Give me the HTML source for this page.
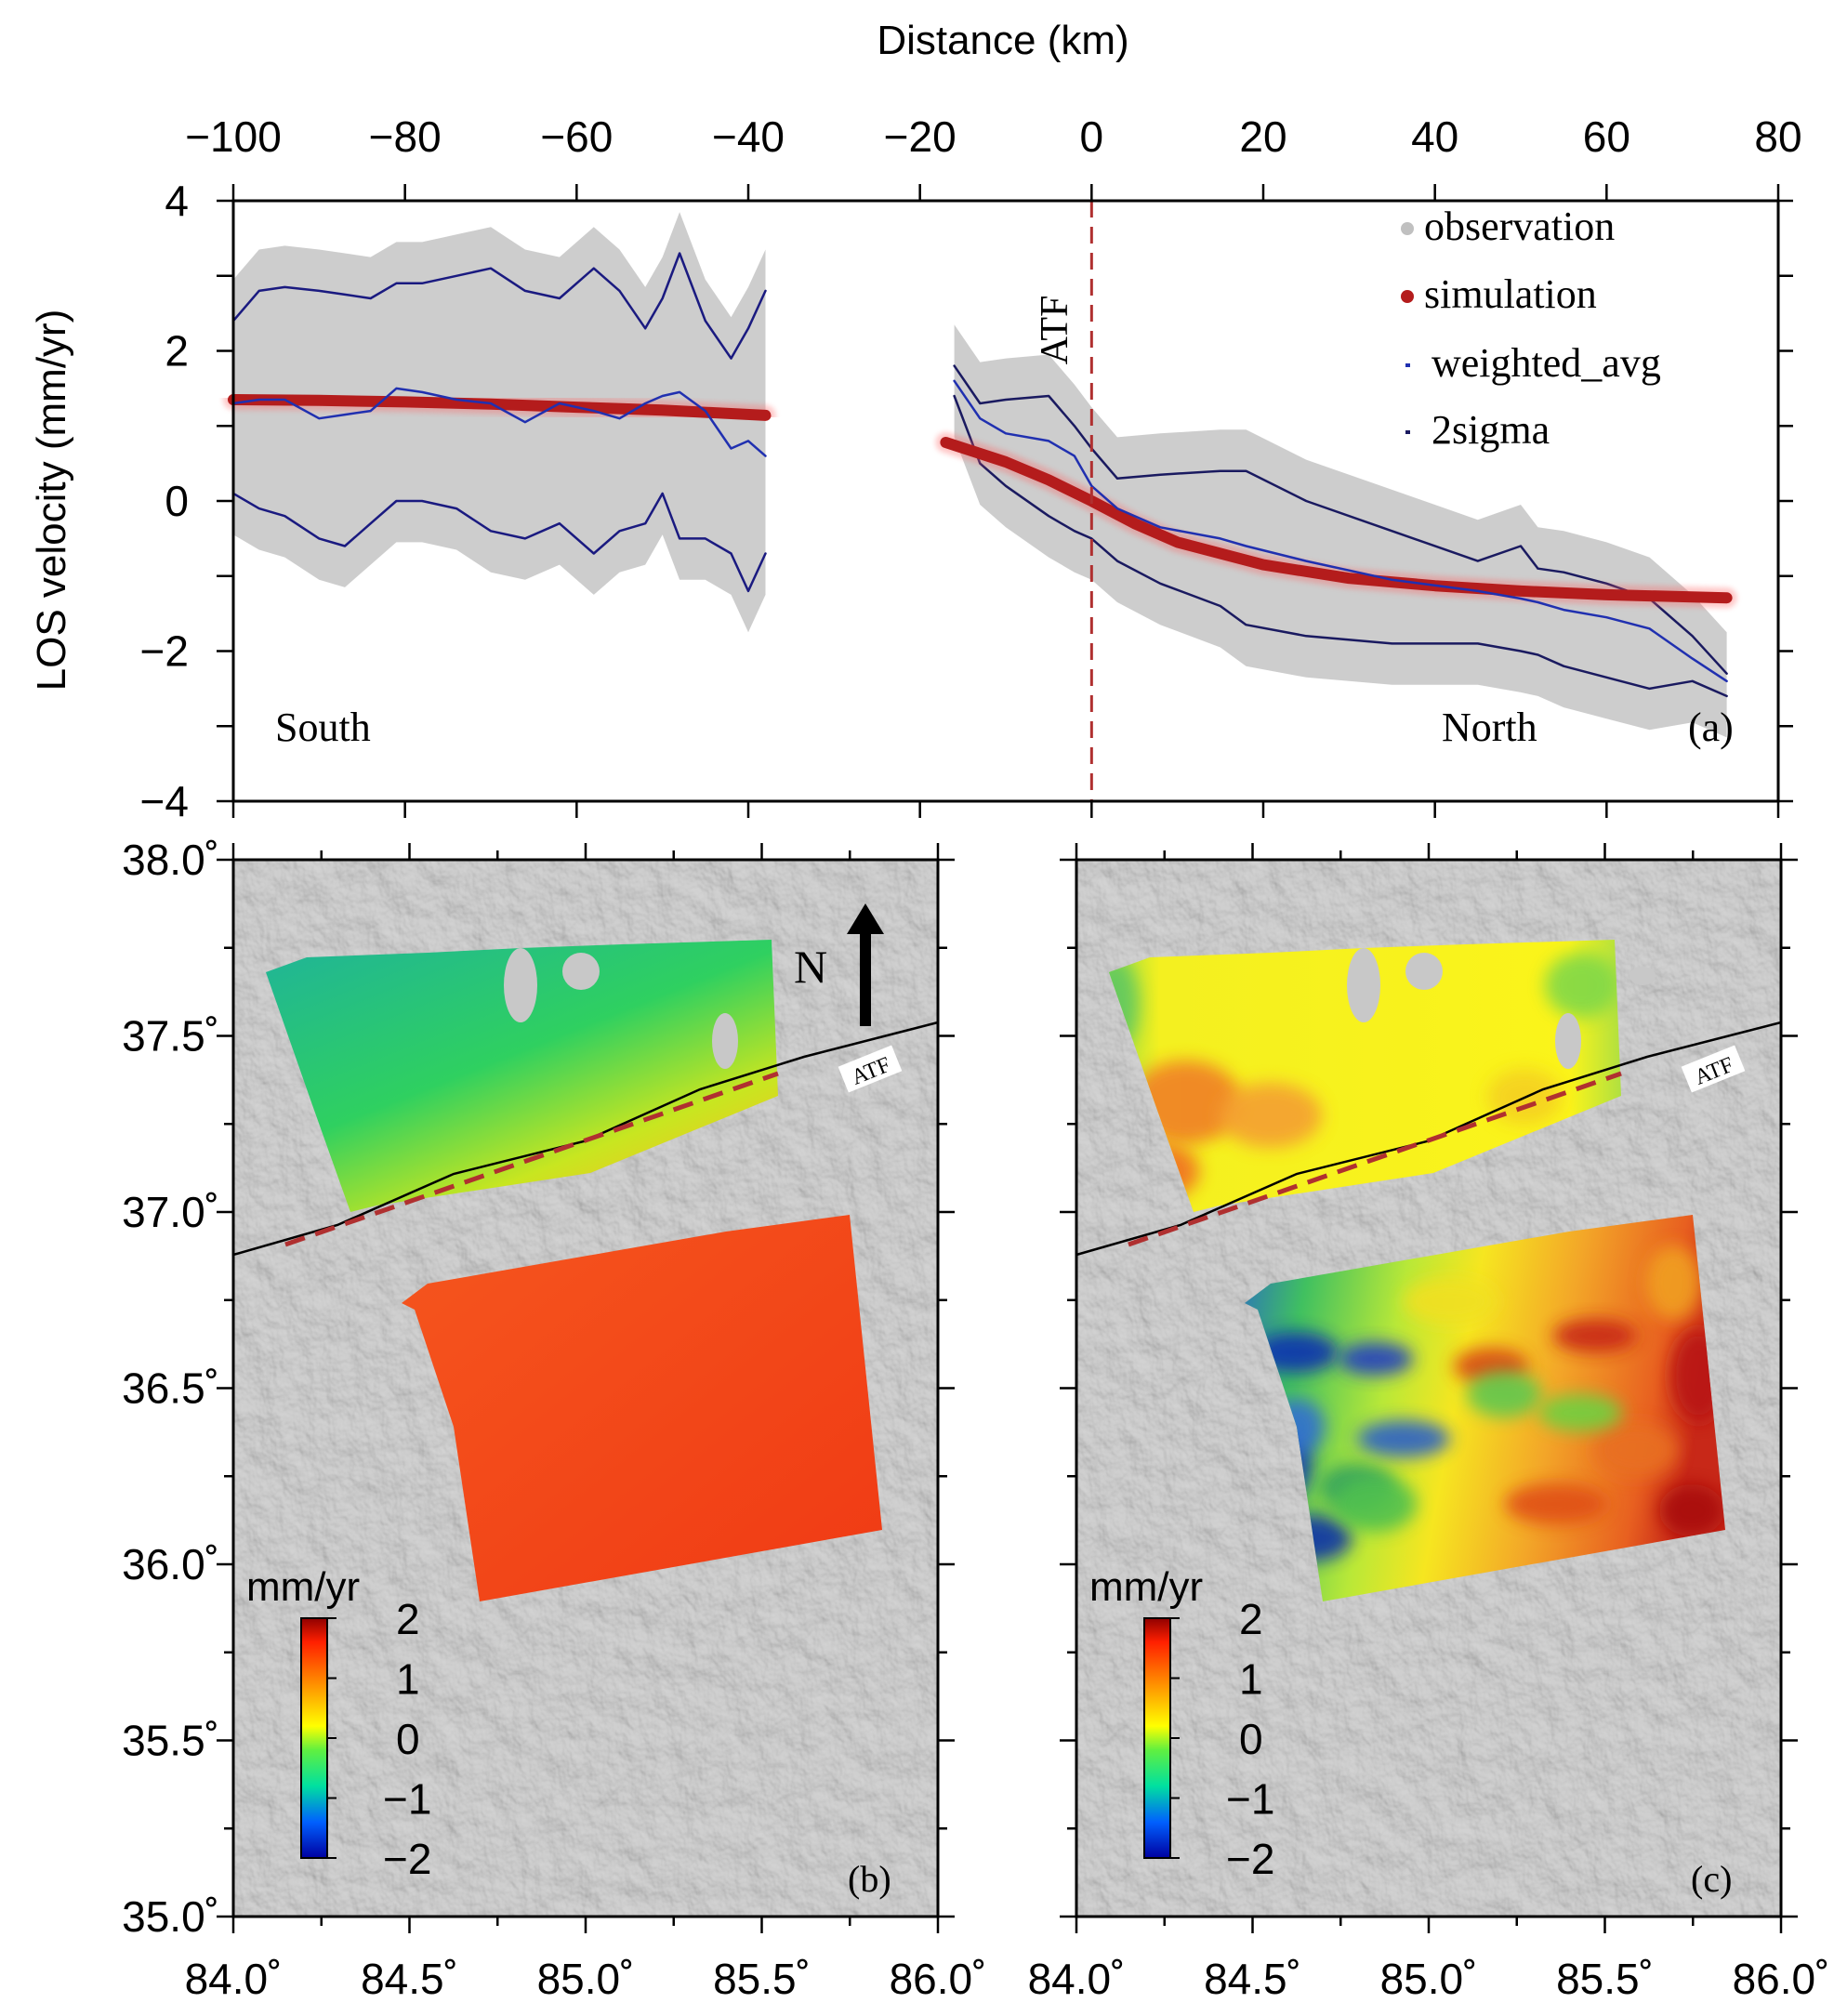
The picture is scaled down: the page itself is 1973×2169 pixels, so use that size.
<!DOCTYPE html>
<html><head><meta charset="utf-8"><style>
body{margin:0;background:#fff}
svg{display:block}
.sans{font-family:"Liberation Sans",sans-serif}
.serif{font-family:"Liberation Serif",serif}
</style></head><body>
<svg id="fig" width="1973" height="2169" viewBox="0 0 1973 2169" xmlns="http://www.w3.org/2000/svg">
<defs>
<filter id="hill" x="0" y="0" width="100%" height="100%">
<feTurbulence type="fractalNoise" baseFrequency="0.035 0.03" numOctaves="4" seed="7" result="n"/>
<feDiffuseLighting in="n" surfaceScale="4" lighting-color="#d6d6d6" diffuseConstant="1.0" result="l"><feDistantLight azimuth="300" elevation="60"/></feDiffuseLighting>
</filter>
<linearGradient id="gNb" x1="0" y1="0" x2="0.75" y2="1"><stop offset="0" stop-color="#1fb39a"/><stop offset="0.5" stop-color="#2fd060"/><stop offset="0.8" stop-color="#c8e620"/><stop offset="1" stop-color="#f6c020"/></linearGradient>
<linearGradient id="gSb" x1="0" y1="0" x2="1" y2="1"><stop offset="0" stop-color="#f5561e"/><stop offset="1" stop-color="#f03a14"/></linearGradient>
<linearGradient id="gNc" x1="0" y1="0" x2="1" y2="0"><stop offset="0" stop-color="#9fe040"/><stop offset="0.1" stop-color="#f4f020"/><stop offset="0.9" stop-color="#fbf41a"/><stop offset="1" stop-color="#b0e040"/></linearGradient>
<linearGradient id="gSc" x1="0" y1="0" x2="1" y2="0.15"><stop offset="0" stop-color="#2a70c0"/><stop offset="0.15" stop-color="#40c060"/><stop offset="0.35" stop-color="#b8e838"/><stop offset="0.5" stop-color="#f6e620"/><stop offset="0.7" stop-color="#f3a628"/><stop offset="0.9" stop-color="#e86020"/><stop offset="1" stop-color="#c82818"/></linearGradient>
<linearGradient id="gBar" x1="0" y1="1" x2="0" y2="0"><stop offset="0" stop-color="#0000a0"/><stop offset="0.15" stop-color="#0060ff"/><stop offset="0.3" stop-color="#00e0a0"/><stop offset="0.45" stop-color="#60f040"/><stop offset="0.55" stop-color="#ffff00"/><stop offset="0.75" stop-color="#ff8000"/><stop offset="0.9" stop-color="#ff2000"/><stop offset="1" stop-color="#900000"/></linearGradient>
<filter id="blur"><feGaussianBlur stdDeviation="3"/></filter>
<filter id="blob" x="-50%" y="-50%" width="200%" height="200%"><feGaussianBlur stdDeviation="9"/></filter>
<clipPath id="clipSc"><polygon points="1339,1402 1367,1381 1688,1325 1821,1307 1856,1646 1423,1723 1395,1535 1353,1409"/></clipPath>
<clipPath id="clipNc"><polygon points="1193,1046 1237,1030 1367,1025 1467,1020 1577,1016 1737,1011 1744,1179 1542,1262 1312,1297 1284,1304 1242,1186"/></clipPath>
</defs>
<g id="topgrp"></g>
<g id="maps"></g>
</svg>
<script>
// ---- Profile data (km, mm/yr)
const leftKm   = [-100,-97,-94,-90,-87,-84,-81,-78,-74,-70,-66,-62,-58,-55,-52,-50,-48,-45,-42,-40,-38];
const leftAvg  = [1.3,1.35,1.35,1.1,1.15,1.2,1.5,1.45,1.35,1.3,1.05,1.3,1.2,1.1,1.3,1.4,1.45,1.2,0.7,0.8,0.6];
const leftUp   = [2.4,2.8,2.85,2.8,2.75,2.7,2.9,2.9,3.0,3.1,2.8,2.7,3.1,2.8,2.3,2.7,3.3,2.4,1.9,2.3,2.8];
const leftLo   = [0.1,-0.1,-0.2,-0.5,-0.6,-0.3,0.0,0.0,-0.1,-0.4,-0.5,-0.3,-0.7,-0.4,-0.3,0.1,-0.5,-0.5,-0.7,-1.2,-0.7];
const rightKm  = [-16,-13,-10,-5,-2,0,3,8,15,18,25,35,45,50,52,55,60,65,70,74];
const rightAvg = [1.6,1.1,0.9,0.8,0.6,0.2,-0.1,-0.35,-0.5,-0.6,-0.8,-1.05,-1.2,-1.3,-1.35,-1.45,-1.55,-1.7,-2.1,-2.4];
const rightUp  = [1.8,1.3,1.35,1.4,1.0,0.7,0.3,0.35,0.4,0.4,0.0,-0.4,-0.8,-0.6,-0.9,-0.95,-1.1,-1.3,-1.8,-2.3];
const rightLo  = [1.4,0.5,0.2,-0.2,-0.4,-0.5,-0.8,-1.1,-1.4,-1.65,-1.8,-1.9,-1.9,-2.0,-2.05,-2.2,-2.35,-2.5,-2.4,-2.6];
const simKmL   = [-100,-90,-80,-70,-60,-50,-38];
const simL     = [1.35,1.34,1.32,1.29,1.25,1.21,1.14];
const simKmR   = [-17,-10,-5,0,5,10,20,30,40,50,60,74];
const simR     = [0.78,0.52,0.28,0.0,-0.3,-0.55,-0.85,-1.03,-1.13,-1.2,-1.25,-1.29];
const xTicks   = [-100,-80,-60,-40,-20,0,20,40,60,80];
const yTicks   = [4,2,0,-2,-4];
const legendLabels = ["observation","simulation","weighted_avg","2sigma"];

const NS="http://www.w3.org/2000/svg";
function mk(tag,attrs,parent,text){const el=document.createElementNS(NS,tag);for(const k in attrs)el.setAttribute(k,attrs[k]);if(text!==undefined)el.textContent=text;parent.appendChild(el);return el;}
const X0=251,X1=1913,Y0=216,Y1=862;
const xs=v=>X0+(v+100)/180*(X1-X0);
const ys=v=>Y0+(4-v)/8*(Y1-Y0);
const topG=document.getElementById('topgrp');
function pts(k,v){return k.map((d,i)=>xs(d).toFixed(1)+','+ys(v[i]).toFixed(1)).join(' ');}
function band(k,up,lo,name){
  const a=k.map((d,i)=>xs(d).toFixed(1)+','+ys(up[i]+0.55).toFixed(1));
  const b=k.map((d,i)=>xs(d).toFixed(1)+','+ys(lo[i]-0.55).toFixed(1)).reverse();
  const p=mk('polygon',{points:a.concat(b).join(' '),fill:'#c4c4c4',opacity:'0.85'},topG);
  
  
}
band(leftKm,leftUp,leftLo,'observation-south');
band(rightKm,rightUp,rightLo,'observation-north');
function line(k,v,st,w,name,extra){const el=mk('polyline',Object.assign({points:pts(k,v),fill:'none',stroke:st,'stroke-width':w,'stroke-linejoin':'round','stroke-linecap':'round'},extra||{}),topG);
  
  
  return el;}
line(leftKm,leftUp,'#1a1a80',2.5,'sigma-upper-south');
line(leftKm,leftLo,'#1a1a80',2.5,'sigma-lower-south');
line(rightKm,rightUp,'#1a1a60',2.5,'sigma-upper-north');
line(rightKm,rightLo,'#1a1a60',2.5,'sigma-lower-north');
line(simKmL,simL,'#ff6060',22,'sim-glow-south',{opacity:'0.35',filter:'url(#blur)'});
line(simKmR,simR,'#ff6060',22,'sim-glow-north',{opacity:'0.35',filter:'url(#blur)'});
line(simKmL,simL,'#b41c1c',12,'simulation-south');
line(simKmR,simR,'#b41c1c',12,'simulation-north');
line(leftKm,leftAvg,'#2030b0',2.5,'weighted-avg-south');
line(rightKm,rightAvg,'#2030b0',2.5,'weighted-avg-north');
let e=mk('line',{x1:xs(0),y1:Y0,x2:xs(0),y2:Y1,stroke:'#b03030','stroke-width':3,'stroke-dasharray':'18,10'},topG);


e=mk('rect',{x:X0,y:Y0,width:X1-X0,height:Y1-Y0,fill:'none',stroke:'#000','stroke-width':3},topG);


xTicks.forEach(t=>{
  mk('line',{x1:xs(t),y1:Y0-18,x2:xs(t),y2:Y0,stroke:'#000','stroke-width':2.5},topG);
  mk('line',{x1:xs(t),y1:Y1,x2:xs(t),y2:Y1+18,stroke:'#000','stroke-width':2.5},topG);
  const l=mk('text',{x:xs(t),y:163,'text-anchor':'middle','font-size':46,class:'sans'},topG,(t<0?'\u2212'+(-t):String(t)));
  
  
});
for(let v=-4;v<=4;v++){mk('line',{x1:X0-18,y1:ys(v),x2:X0,y2:ys(v),stroke:'#000','stroke-width':2.5},topG);mk('line',{x1:X1,y1:ys(v),x2:X1+16,y2:ys(v),stroke:'#000','stroke-width':2.5},topG);}
yTicks.forEach(t=>{const l=mk('text',{x:203,y:ys(t)+16,'text-anchor':'end','font-size':46,class:'sans'},topG,(t<0?'\u2212'+(-t):String(t)));
  
  });
e=mk('text',{x:1079,y:58,'text-anchor':'middle','font-size':44,class:'sans'},topG,'Distance (km)');


e=mk('text',{x:0,y:0,'text-anchor':'middle','font-size':44,class:'sans',transform:'translate(70,538) rotate(-90)'},topG,'LOS velocity (mm/yr)');


e=mk('text',{x:0,y:0,'text-anchor':'middle','font-size':42,class:'serif',transform:'translate(1148,355) rotate(-90)'},topG,'ATF');


e=mk('text',{x:296,y:797,'font-size':44,class:'serif'},topG,'South');


e=mk('text',{x:1551,y:797,'font-size':44,class:'serif'},topG,'North');


e=mk('text',{x:1816,y:797,'font-size':44,class:'serif'},topG,'(a)');


const legY=[258,331,405,477];
const legMark=[['circle','#c0c0c0',7],['circle','#b41c1c',7],['rect','#2030b0',0],['rect','#1a1a60',0]];
legendLabels.forEach((s,i)=>{
  const g=mk('g',{},topG);
  
  
  if(legMark[i][0]==='circle')mk('circle',{cx:1514,cy:legY[i]-12,r:legMark[i][2],fill:legMark[i][1]},g);
  else mk('rect',{x:1512,y:legY[i]-14,width:5,height:4,fill:legMark[i][1]},g);
  mk('text',{x:(i>=2?1540:1532),y:legY[i],'font-size':44,class:'serif'},g,s);
});

// ---- Maps
const maps=document.getElementById('maps');
const latTicks=['38.0','37.5','37.0','36.5','36.0','35.5','35.0'];
const lonTicks=['84.0','84.5','85.0','85.5','86.0'];
const MY0=925,MY1=2062;
// mottled patches for panel c: [cx, cy, rx, ry, colour]
const blobsSc=[[1395,1455,45,22,'#1030b0'],[1480,1462,40,18,'#2040c0'],[1381,1576,30,40,'#1838b0'],[1409,1655,45,25,'#1030a8'],[1395,1535,30,30,'#3070d0'],[1510,1548,50,20,'#2a60c8'],[1460,1600,40,25,'#30a060'],
  [1827,1480,30,50,'#b81818'],[1820,1625,35,28,'#a81010'],[1716,1437,45,18,'#c82818'],[1604,1470,40,20,'#d84818'],[1674,1618,55,22,'#e05018'],[1760,1560,45,30,'#e87020'],
  [1618,1500,40,25,'#60c850'],[1479,1618,45,30,'#50c050'],[1700,1520,45,20,'#70d040'],[1560,1400,50,25,'#f0e020'],[1800,1380,30,40,'#f0a020']];
const blobsNc=[[1276,1186,60,45,'#f08028'],[1367,1200,55,35,'#f4a030'],[1200,1080,25,50,'#60c860'],[1702,1060,40,35,'#80d848'],[1250,1260,40,30,'#f07020'],[1640,1180,40,30,'#f4d020']];
function panel(ox,id,gN,gS,lab,showLat){
  const PX0=251+ox,PX1=1009+ox;
  const g=mk('g',{},maps);
  
  
  mk('rect',{x:PX0,y:MY0,width:PX1-PX0,height:MY1-MY0,fill:'#cbcbcb'},g);
  mk('rect',{x:PX0,y:MY0,width:PX1-PX0,height:MY1-MY0,filter:'url(#hill)',opacity:'0.7'},g);
  const sh=a=>a.map(p=>(p[0]+ox)+','+p[1]).join(' ');
  let p=mk('polygon',{points:sh([[286,1046],[330,1030],[460,1025],[560,1020],[670,1016],[830,1011],[837,1179],[635,1262],[405,1297],[377,1304],[335,1186]]),fill:'url(#'+gN+')'},g);
  
  
  if(id==='c'){const bg=mk('g',{'clip-path':'url(#clipNc)'},g);blobsNc.forEach(b=>mk('ellipse',{cx:b[0],cy:b[1],rx:b[2],ry:b[3],fill:b[4],filter:'url(#blob)',opacity:'0.9'},bg));}
  // data gaps in north swath
  [[560,1060,18,40],[625,1045,20,20],[780,1120,14,30],[860,1050,14,10]].forEach(h=>mk('ellipse',{cx:h[0]+ox,cy:h[1],rx:h[2],ry:h[3],fill:'#c8c8c8'},g));
  p=mk('polygon',{points:sh([[432,1402],[460,1381],[781,1325],[914,1307],[949,1646],[516,1723],[488,1535],[446,1409]]),fill:'url(#'+gS+')'},g);
  
  
  if(id==='c'){const bg=mk('g',{'clip-path':'url(#clipSc)'},g);blobsSc.forEach(b=>mk('ellipse',{cx:b[0],cy:b[1],rx:b[2],ry:b[3],fill:b[4],filter:'url(#blob)',opacity:'0.9'},bg));}
  p=mk('polyline',{points:sh([[251,1350],[363,1318],[488,1263],[628,1228],[753,1172],[865,1137],[1009,1100]]),fill:'none',stroke:'#000','stroke-width':2.5},g);
  
  
  p=mk('line',{x1:307+ox,y1:1339,x2:837+ox,y2:1155,stroke:'#b03030','stroke-width':5,'stroke-dasharray':'22,12'},g);
  
  
  mk('rect',{x:905+ox,y:1135,width:62,height:30,fill:'#fff',transform:'rotate(-22 '+(936+ox)+' 1150)'},g);
  mk('text',{x:936+ox,y:1160,'text-anchor':'middle','font-size':24,class:'serif',transform:'rotate(-22 '+(936+ox)+' 1150)'},g,'ATF');
  const cb=mk('g',{},g);
  
  
  mk('rect',{x:324+ox,y:1741,width:28,height:258,fill:'url(#gBar)',stroke:'#000','stroke-width':2},cb);
  mk('text',{x:265+ox,y:1722,'font-size':44,class:'sans'},cb,'mm/yr');
  ['2','1','0','\u22121','\u22122'].forEach((s,i)=>{const yy=1741+i*64.5;mk('line',{x1:352+ox,y1:yy,x2:362+ox,y2:yy,stroke:'#000','stroke-width':2},cb);mk('text',{x:(i>2?412:426)+ox,y:yy+17,'font-size':46,class:'sans'},cb,s);});
  p=mk('text',{x:912+ox,y:2035,'font-size':40,class:'serif'},g,lab);
  
  
  mk('rect',{x:PX0,y:MY0,width:PX1-PX0,height:MY1-MY0,fill:'none',stroke:'#000','stroke-width':3},g);
  for(let i=0;i<=8;i++){const xx=PX0+i*(PX1-PX0)/8;const L=i%2?10:18;mk('line',{x1:xx,y1:MY0-L,x2:xx,y2:MY0,stroke:'#000','stroke-width':2.5},g);mk('line',{x1:xx,y1:MY1,x2:xx,y2:MY1+L,stroke:'#000','stroke-width':2.5},g);}
  for(let i=0;i<=12;i++){const yy=MY0+i*(MY1-MY0)/12;const L=i%2?10:18;mk('line',{x1:PX0-L,y1:yy,x2:PX0,y2:yy,stroke:'#000','stroke-width':2.5},g);mk('line',{x1:PX1,y1:yy,x2:PX1+L,y2:yy,stroke:'#000','stroke-width':2.5},g);}
  lonTicks.forEach((s,i)=>{const t=mk('text',{x:PX0+i*(PX1-PX0)/4,y:2145,'text-anchor':'middle','font-size':46,class:'sans'},g,s+'\u02DA');
    
    });
  if(showLat)latTicks.forEach((s,i)=>{const t=mk('text',{x:236,y:MY0+i*(MY1-MY0)/6+16,'text-anchor':'end','font-size':46,class:'sans'},g,s+'\u02DA');
    
    });
}
panel(0,'b','gNb','gSb','(b)',true);
panel(907,'c','gNc','gSc','(c)',false);
const na=mk('g',{},maps);


mk('rect',{x:925,y:1000,width:12,height:104,fill:'#000'},na);
mk('polygon',{points:'911,1005 931,972 951,1005',fill:'#000'},na);
mk('text',{x:872,y:1057,'text-anchor':'middle','font-size':50,class:'serif'},na,'N');
</script>
</body></html>
